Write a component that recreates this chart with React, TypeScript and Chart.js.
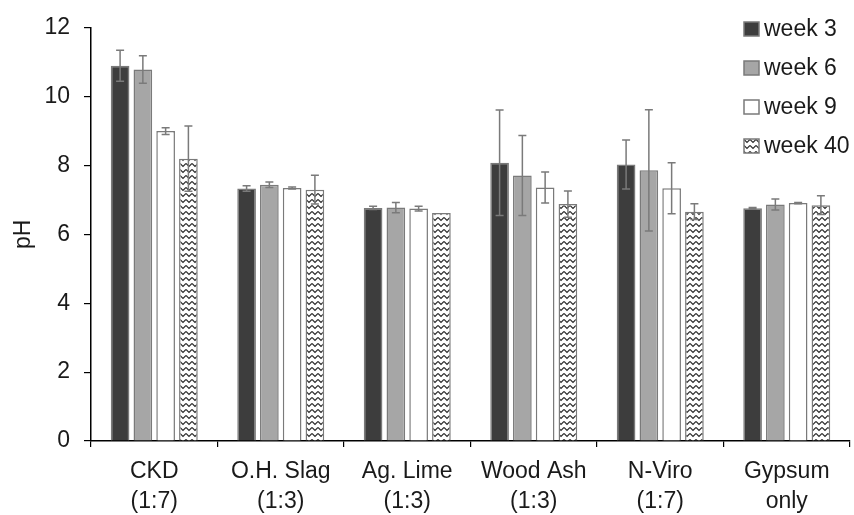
import React, { useEffect, useRef } from "react";
import { Chart, registerables } from "chart.js";

Chart.register(...registerables);

const categories: string[][] = [
  ["CKD", "(1:7)"],
  ["O.H. Slag", "(1:3)"],
  ["Ag. Lime", "(1:3)"],
  ["Wood Ash", "(1:3)"],
  ["N-Viro", "(1:7)"],
  ["Gypsum", "only"],
];

const seriesLabels = ["week 3", "week 6", "week 9", "week 40"];

const week3 = [10.9, 7.33, 6.77, 8.08, 8.03, 6.76];
const week6 = [10.79, 7.44, 6.78, 7.71, 7.86, 6.87];
const week9 = [9.0, 7.35, 6.75, 7.36, 7.34, 6.91];
const week40 = [8.2, 7.3, 6.62, 6.88, 6.66, 6.85];

const err3 = [0.45, 0.08, 0.05, 1.53, 0.71, 0.02];
const err6 = [0.4, 0.08, 0.15, 1.16, 1.76, 0.16];
const err9 = [0.1, 0.03, 0.07, 0.45, 0.74, 0.02];
const err40 = [0.95, 0.42, 0.0, 0.38, 0.23, 0.27];

const yTicks = [0, 2, 4, 6, 8, 10, 12];

const FONT = "'Liberation Sans', Arial, sans-serif";

function makeZigzag(): CanvasPattern | string {
  const c = document.createElement("canvas");
  c.width = 6;
  c.height = 6;
  const g = c.getContext("2d");
  if (!g) return "#fff";
  g.fillStyle = "#ffffff";
  g.fillRect(0, 0, 6, 6);
  g.strokeStyle = "#2a2a2a";
  g.lineWidth = 1.2;
  g.beginPath();
  g.moveTo(0, 1.5);
  g.lineTo(3, 4.5);
  g.lineTo(6, 1.5);
  g.stroke();
  const p = g.createPattern(c, "repeat");
  return p || "#fff";
}

export default function App() {
  const ref = useRef<HTMLCanvasElement | null>(null);

  useEffect(() => {
    const canvas = ref.current;
    if (!canvas) return;
    const zig = makeZigzag();
    const errs = [err3, err6, err9, err40];

    const errorBars = {
      id: "errorBars",
      afterDatasetsDraw(chart: any) {
        const ctx = chart.ctx;
        const ys = chart.scales.y;
        ctx.save();
        ctx.strokeStyle = "#7a7a7a";
        ctx.lineWidth = 1.5;
        chart.data.datasets.forEach((ds: any, di: number) => {
          const meta = chart.getDatasetMeta(di);
          meta.data.forEach((el: any, i: number) => {
            const v = ds.data[i];
            const e = errs[di][i];
            if (!e) return;
            const x = el.x;
            const yt = ys.getPixelForValue(v + e);
            const yb = ys.getPixelForValue(v - e);
            ctx.beginPath();
            ctx.moveTo(x, yt);
            ctx.lineTo(x, yb);
            ctx.moveTo(x - 4, yt);
            ctx.lineTo(x + 4, yt);
            ctx.moveTo(x - 4, yb);
            ctx.lineTo(x + 4, yb);
            ctx.stroke();
          });
        });
        ctx.restore();
      },
    };

    const customLegend = {
      id: "customLegend",
      afterDraw(chart: any) {
        const ctx = chart.ctx;
        ctx.save();
        const x0 = 744;
        const y0 = 29;
        const step = 39;
        chart.data.datasets.forEach((ds: any, i: number) => {
          const cy = y0 + i * step;
          ctx.fillStyle = ds.backgroundColor;
          ctx.fillRect(x0, cy - 7, 15, 14);
          ctx.strokeStyle = "#7a7a7a";
          ctx.lineWidth = 1.5;
          ctx.strokeRect(x0, cy - 7, 15, 14);
          ctx.fillStyle = "#1a1a1a";
          ctx.font = `23px ${FONT}`;
          ctx.textBaseline = "middle";
          ctx.textAlign = "left";
          ctx.fillText(ds.label, 764, cy + 1);
        });
        ctx.restore();
      },
    };

    const fills = ["#3d3d3d", "#a6a6a6", "#ffffff", zig];
    const values = [week3, week6, week9, week40];

    const chart = new Chart(canvas, {
      type: "bar",
      data: {
        labels: categories,
        datasets: seriesLabels.map((label, i) => ({
          label,
          data: values[i],
          backgroundColor: fills[i] as any,
          borderColor: "#7a7a7a",
          borderWidth: 1.5,
          categoryPercentage: 0.72,
          barPercentage: 0.82,
        })),
      },
      options: {
        animation: false,
        responsive: false,
        devicePixelRatio: 1,
        layout: { padding: { top: 21, right: 4, left: 0, bottom: 0 } },
        plugins: {
          legend: { display: false },
          tooltip: { enabled: false },
        },
        scales: {
          x: {
            afterFit(scale: any) {
              scale.height = 74;
            },
            grid: {
              offset: true,
              drawOnChartArea: false,
              drawTicks: true,
              tickLength: 6,
              color: "#000",
              lineWidth: 1.2,
            },
            border: { display: true, color: "#000", width: 1.5 },
            ticks: {
              color: "#1a1a1a",
              font: { family: FONT, size: 23, lineHeight: 1.28 },
              padding: 10,
              maxRotation: 0,
              autoSkip: false,
            },
          },
          y: {
            min: 0,
            max: 12,
            afterFit(scale: any) {
              scale.width = 91;
            },
            afterBuildTicks(scale: any) {
              scale.ticks = yTicks.map((v) => ({ value: v }));
            },
            grid: {
              drawOnChartArea: false,
              drawTicks: true,
              tickLength: 7,
              color: "#000",
              lineWidth: 1.2,
            },
            border: { display: true, color: "#000", width: 1.5 },
            ticks: {
              color: "#1a1a1a",
              font: { family: FONT, size: 23 },
              padding: 14,
            },
            title: {
              display: true,
              text: "pH",
              color: "#1a1a1a",
              font: { family: FONT, size: 23 },
              padding: { top: 10, bottom: 0 },
            },
          },
        },
      },
      plugins: [errorBars, customLegend],
    });

    return () => chart.destroy();
  }, []);

  return (
    <div style={{ position: "fixed", left: 0, top: 0, width: 854, height: 515, background: "#fff" }}>
      <canvas ref={ref} width={854} height={515} style={{ display: "block" }} />
    </div>
  );
}
